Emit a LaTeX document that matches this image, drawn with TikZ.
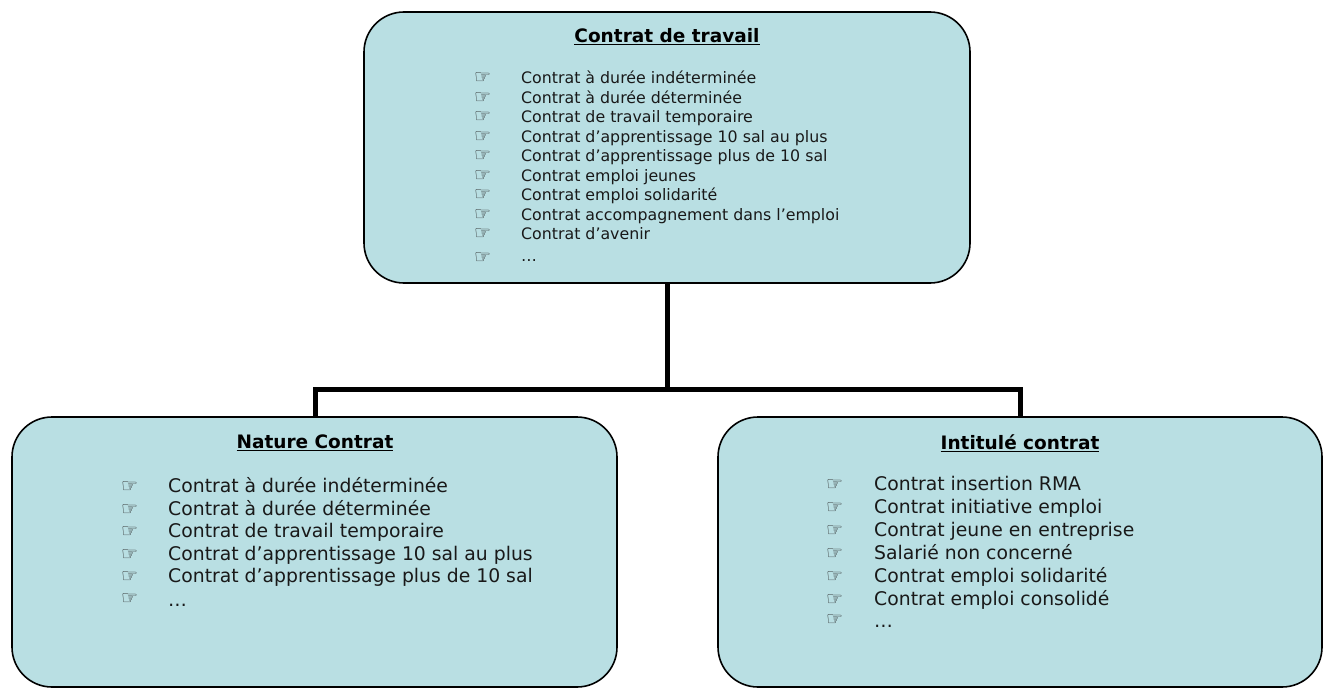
\documentclass[tikz,border=0pt]{standalone}
\usepackage{fontspec}
\setmainfont{DejaVu Sans}
\newfontfamily\symfont{DejaVu Sans}
\definecolor{boxfill}{RGB}{185,223,227}
\definecolor{bulletgray}{RGB}{40,40,40}
\begin{document}
\begin{tikzpicture}[x=1pt,y=-1pt,
  box/.style={draw=black,line width=1.6pt,fill=boxfill,rounded corners=40pt,inner sep=0pt},
  conn/.style={line width=5pt,black},
  ttl/.style={font=\fontsize{18.5}{20}\selectfont\bfseries,inner sep=0pt},
  itemtop/.style={anchor=mid west,font=\fontsize{15.8}{18}\selectfont,inner sep=0pt,text=black!90},
  itembot/.style={anchor=mid west,font=\fontsize{18.8}{21}\selectfont,inner sep=0pt,text=black!90},
  bul/.style={anchor=mid west,font=\fontsize{19}{20}\selectfont\symfont,inner sep=0pt,text=bulletgray}]
\useasboundingbox (0,0) rectangle (1324,688);
% boxes
\path[box] (364,12) rectangle (970,283) node[pos=0.5,inner sep=0pt] (top) {};
\path[box] (12,417) rectangle (617,687) node[pos=0.5,inner sep=0pt] (left) {};
\path[box] (718,417) rectangle (1322,687) node[pos=0.5,inner sep=0pt] (right) {};
\coordinate (topS) at (667,283);
\coordinate (leftN) at (315,417);
\coordinate (rightN) at (1020,417);
\coordinate (j) at (667,389);
\draw[conn] (topS) -- (j);
\draw[conn,line join=miter] (j) -| (leftN);
\draw[conn,line join=miter] (j) -| (rightN);
% titles
\node[ttl] (ttop) at (667,37) {\underline{Contrat de travail}};
\node[ttl] (tleft) at (315,443) {\underline{Nature Contrat}};
\node[ttl] (tright) at (1020,443) {\underline{Intitulé contrat}};
% top list
\foreach \t [count=\i] in {Contrat à durée indéterminée,Contrat à durée déterminée,Contrat de travail temporaire,Contrat d’apprentissage 10 sal au plus,Contrat d’apprentissage plus de 10 sal,Contrat emploi jeunes,Contrat emploi solidarité,Contrat accompagnement dans l’emploi,Contrat d’avenir}{
  \node[itemtop] (a\i) at (521,{81+(\i-1)*19.5}) {\t};
  \node[bul] (ab\i) at (474,{81+(\i-1)*19.5}) {☞};
}
\node[itemtop] (a10) at (521,259) {…};
\node[bul] (ab10) at (474,261) {☞};
% left list
\foreach \t [count=\i] in {Contrat à durée indéterminée,Contrat à durée déterminée,Contrat de travail temporaire,Contrat d’apprentissage 10 sal au plus,Contrat d’apprentissage plus de 10 sal}{
  \node[itembot] (b\i) at (168,{490+(\i-1)*22.5}) {\t};
  \node[bul] (bb\i) at (121,{490+(\i-1)*22.5}) {☞};
}
\node[itembot] (b6) at (168,604) {…};
\node[bul] (bb6) at (121,602) {☞};
% right list
\foreach \t [count=\i] in {Contrat insertion RMA,Contrat initiative emploi,Contrat jeune en entreprise,Salarié non concerné,Contrat emploi solidarité,Contrat emploi consolidé}{
  \node[itembot] (c\i) at (874,{488+(\i-1)*23}) {\t};
  \node[bul] (cb\i) at (826,{488+(\i-1)*23}) {☞};
}
\node[itembot] (c7) at (874,625) {…};
\node[bul] (cb7) at (826,623) {☞};
\end{tikzpicture}
\end{document}
